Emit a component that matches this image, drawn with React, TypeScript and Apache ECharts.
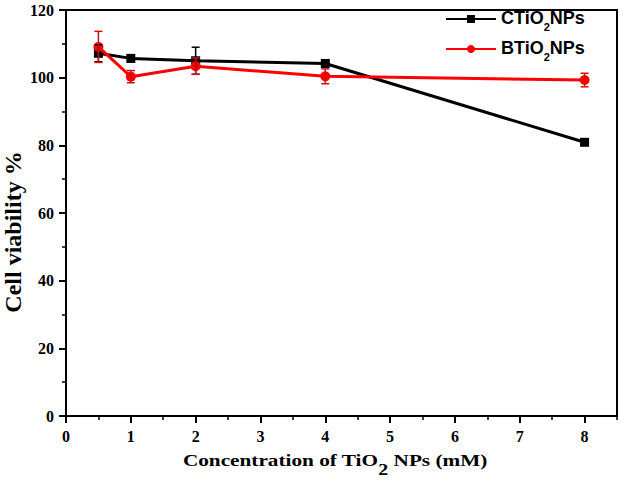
import React, { useEffect, useRef } from "react";
import * as echarts from "echarts";

const concentrations = [0.5, 1, 2, 4, 8];
const cTiO2Values = [107.2, 105.7, 105.0, 104.2, 80.9];
const cTiO2Errors = [2.5, 1.0, 4.0, 1.0, 0.8];
const bTiO2Values = [109.1, 100.3, 103.4, 100.4, 99.3];
const bTiO2Errors = [4.6, 1.8, 2.4, 2.2, 2.0];
const seriesNames = ["CTiO2NPs", "BTiO2NPs"];
const xTicks = [0, 1, 2, 3, 4, 5, 6, 7, 8];
const yTicks = [0, 20, 40, 60, 80, 100, 120];

const SERIF = "'Liberation Serif', 'Times New Roman', serif";
const SANS = "'Liberation Sans', Arial, sans-serif";

function errorBarSeries(name: string, values: number[], errors: number[], color: string) {
  return {
    type: "custom",
    name,
    xAxisIndex: 0,
    yAxisIndex: 0,
    z: 5,
    data: concentrations.map((x, i) => [x, values[i] - errors[i], values[i] + errors[i]]),
    encode: { x: 0, y: [1, 2] },
    renderItem: (_params: any, api: any) => {
      const x = api.value(0);
      const lo = api.coord([x, api.value(1)]);
      const hi = api.coord([x, api.value(2)]);
      const hw = 4;
      const st = { stroke: color, lineWidth: 1.5 };
      return {
        type: "group",
        children: [
          { type: "line", shape: { x1: lo[0], y1: lo[1], x2: hi[0], y2: hi[1] }, style: st },
          { type: "line", shape: { x1: lo[0] - hw, y1: lo[1], x2: lo[0] + hw, y2: lo[1] }, style: st },
          { type: "line", shape: { x1: hi[0] - hw, y1: hi[1], x2: hi[0] + hw, y2: hi[1] }, style: st },
        ],
      };
    },
  };
}

export default function App() {
  const ref = useRef<HTMLDivElement>(null);
  useEffect(() => {
    if (!ref.current) return;
    const chart = echarts.init(ref.current, undefined, { renderer: "svg" });
    const subName = (n: string) => {
      const i = n.indexOf("2");
      return `{a|${n.slice(0, i)}}{s|2}{a|${n.slice(i + 1)}}`;
    };
    chart.setOption({
      animation: false,
      backgroundColor: "#fff",
      grid: {
        left: 66,
        right: 7,
        top: 10,
        bottom: 69,
        show: true,
        borderColor: "#000",
        borderWidth: 2,
        backgroundColor: "transparent",
      },
      legend: {
        data: seriesNames,
        orient: "vertical",
        left: 445,
        top: 9,
        padding: 0,
        itemWidth: 50,
        itemHeight: 10,
        itemGap: 7,
        formatter: subName,
        textStyle: {
          fontFamily: SANS,
          fontWeight: "bold",
          fontSize: 18,
          color: "#000",
          padding: [0, 0, 0, 0],
          rich: {
            a: { fontFamily: SANS, fontWeight: "bold", fontSize: 18, lineHeight: 20, verticalAlign: "top", color: "#000" },
            s: { fontFamily: SANS, fontWeight: "bold", fontSize: 11, lineHeight: 11, padding: [12, 0, 0, 0], verticalAlign: "top", color: "#000" },
          },
        },
      },
      xAxis: [
        {
          type: "value",
          min: 0,
          max: 8.5,
          interval: 1,
          position: "bottom",
          axisLine: { show: true, onZero: false, lineStyle: { color: "#000", width: 2 } },
          axisTick: { show: true, length: 7, lineStyle: { color: "#000", width: 2 } },
          axisLabel: {
            margin: 12,
            showMaxLabel: false,
            color: "#000",
            fontFamily: SERIF,
            fontWeight: "bold",
            fontSize: 16,
            formatter: (v: number) => (xTicks.includes(v) ? String(v) : ""),
          },
          splitLine: { show: false },
        },
        {
          type: "value",
          min: 0,
          max: 8.5,
          interval: 0.5,
          position: "bottom",
          gridIndex: 0,
          axisLine: { show: false, onZero: false },
          axisTick: { show: true, length: 4, lineStyle: { color: "#000", width: 1.5 } },
          axisLabel: { show: false },
          splitLine: { show: false },
        },
      ],
      yAxis: {
        type: "value",
        min: 0,
        max: 120,
        interval: 20,
        axisLine: { show: true, onZero: false, lineStyle: { color: "#000", width: 2 } },
        axisTick: { show: true, length: 7, lineStyle: { color: "#000", width: 2 } },
        minorTick: { show: true, splitNumber: 2, length: 4, lineStyle: { color: "#000", width: 1.5 } },
        axisLabel: {
          margin: 12,
          color: "#000",
          fontFamily: SERIF,
          fontWeight: "bold",
          fontSize: 16,
          formatter: (v: number) => (yTicks.includes(v) ? String(v) : ""),
        },
        splitLine: { show: false },
      },
      graphic: [
        {
          type: "text",
          x: 335,
          y: 452,
          scaleX: 1.25,
          style: {
            text: "{a|Concentration of TiO}{s|2}{a| NPs (mM)}",
            align: "center",
            verticalAlign: "top",
            rich: {
              a: { fontFamily: SERIF, fontWeight: "bold", fontSize: 17, lineHeight: 20, verticalAlign: "top", fill: "#000" },
              s: { fontFamily: SERIF, fontWeight: "bold", fontSize: 16, lineHeight: 16, padding: [10, 0, 0, 0], verticalAlign: "top", fill: "#000" },
            },
          },
        },
        {
          type: "text",
          x: 13,
          y: 232,
          rotation: Math.PI / 2,
          style: {
            text: "Cell viability %",
            align: "center",
            verticalAlign: "middle",
            fontFamily: SERIF,
            fontWeight: "bold",
            fontSize: 24,
            fill: "#000",
          },
        },
      ],
      series: [
        {
          type: "line",
          name: seriesNames[0],
          data: concentrations.map((x, i) => [x, cTiO2Values[i]]),
          symbol: "rect",
          symbolSize: 9,
          color: "#000",
          lineStyle: { color: "#000", width: 3 },
          itemStyle: { color: "#000" },
          z: 3,
        },
        {
          type: "line",
          name: seriesNames[1],
          data: concentrations.map((x, i) => [x, bTiO2Values[i]]),
          symbol: "circle",
          symbolSize: 10,
          color: "#ff0000",
          lineStyle: { color: "#ff0000", width: 3 },
          itemStyle: { color: "#ff0000" },
          z: 4,
        },
        errorBarSeries("CTiO2NPs error", cTiO2Values, cTiO2Errors, "#000"),
        errorBarSeries("BTiO2NPs error", bTiO2Values, bTiO2Errors, "#cc1010"),
      ],
    });
    return () => chart.dispose();
  }, []);
  return (
    <div
      ref={ref}
      style={{ position: "fixed", left: 0, top: 0, width: 624, height: 485, background: "#fff" }}
    />
  );
}
